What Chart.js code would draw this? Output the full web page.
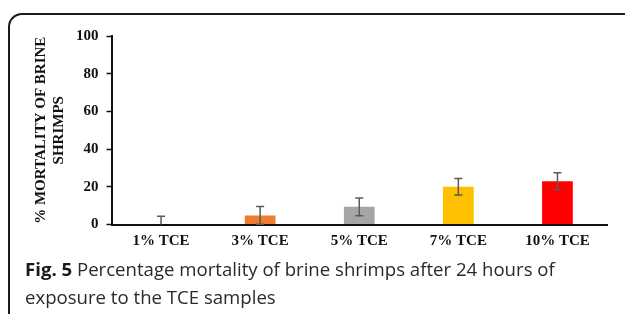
<!DOCTYPE html>
<html>
<head>
<meta charset="utf-8">
<script src="https://cdn.jsdelivr.net/npm/chart.js@4"></script>
<style>
  html, body { margin: 0; padding: 0; background: #fff; overflow: hidden; }
  #wrap { position: relative; width: 625px; height: 314px; }
  #frame {
    position: absolute; left: 8px; top: 13px; width: 700px; height: 400px;
    border-top: 2px solid #1a1a1a; border-left: 2px solid #1a1a1a;
    border-top-left-radius: 14px;
  }
  #chartBox { position: absolute; left: 0; top: 0; width: 625px; height: 258px; }
  #caption {
    position: absolute; left: 25px; top: 255px; width: 590px;
    font-family: "Open Sans", sans-serif; font-size: 18.6px; line-height: 28px; color: #2a2a2a;
  }
  #caption b { color: #1a1a1a; }
</style>
</head>
<body>
<div id="wrap">
  <div id="frame"></div>
  <div id="chartBox"><canvas id="myChart"></canvas></div>
  <div id="caption"><b>Fig. 5</b> Percentage mortality of brine shrimps after 24 hours of<br>exposure to the TCE samples</div>
</div>
<script>
var categories = ["1% TCE", "3% TCE", "5% TCE", "7% TCE", "10% TCE"];
var mortality = [0, 4.8, 9.4, 20, 23];
var errors = [4.4, 4.7, 4.7, 4.4, 4.4];
var yTicks = [0, 20, 40, 60, 80, 100];
var barColors = ["#4472C4", "#ED7D31", "#A5A5A5", "#FFC000", "#FF0000"];

var serifBold = { family: "'Liberation Serif', 'Times New Roman', serif", size: 15, weight: "bold" };

// error bars drawn on top of the bars
var errorBars = {
  id: "errorBars",
  afterDatasetsDraw: function (chart) {
    var ctx = chart.ctx;
    var x = chart.scales.x;
    var y = chart.scales.y;
    ctx.save();
    ctx.strokeStyle = "#5a5a5a";
    ctx.lineWidth = 1.5;
    for (var i = 0; i < mortality.length; i++) {
      var cx = x.getPixelForValue(i);
      var top = y.getPixelForValue(mortality[i] + errors[i]);
      var low = mortality[i] - errors[i];
      var bot = y.getPixelForValue(Math.max(low, 0));
      ctx.beginPath();
      ctx.moveTo(cx, top);
      ctx.lineTo(cx, bot);
      ctx.moveTo(cx - 4, top);
      ctx.lineTo(cx + 4, top);
      if (low > 0) {
        ctx.moveTo(cx - 4, bot);
        ctx.lineTo(cx + 4, bot);
      }
      ctx.stroke();
    }
    ctx.restore();
  }
};

new Chart("myChart", {
  type: "bar",
  data: {
    labels: categories,
    datasets: [
      {
        data: mortality,
        backgroundColor: barColors,
        barPercentage: 0.31,
        categoryPercentage: 1
      }
    ]
  },
  options: {
    responsive: true,
    maintainAspectRatio: false,
    animation: false,
    layout: { padding: { top: 36, left: 0, right: 18, bottom: 0 } },
    plugins: {
      legend: { display: false },
      tooltip: { enabled: false }
    },
    scales: {
      x: {
        grid: { display: false, drawTicks: false },
        border: { color: "#111", width: 2 },
        ticks: { color: "#111", font: serifBold, padding: 8 },
        afterFit: function (s) { s.height = 33.5; }
      },
      y: {
        min: 0,
        max: 100,
        afterBuildTicks: function (s) { s.ticks = yTicks.map(function (v) { return { value: v }; }); },
        grid: { drawOnChartArea: false, drawTicks: true, tickLength: 5, color: "#111", tickWidth: 1.5 },
        border: { color: "#111", width: 2 },
        ticks: { color: "#111", font: serifBold, padding: 8 },
        title: {
          display: true,
          text: ["% MORTALITY OF BRINE", "SHRIMPS"],
          color: "#111",
          font: serifBold,
          padding: { top: 32, bottom: 0 }
        },
        afterFit: function (s) { s.width = 111.5; }
      }
    }
  },
  plugins: [errorBars]
});
</script>
</body>
</html>
